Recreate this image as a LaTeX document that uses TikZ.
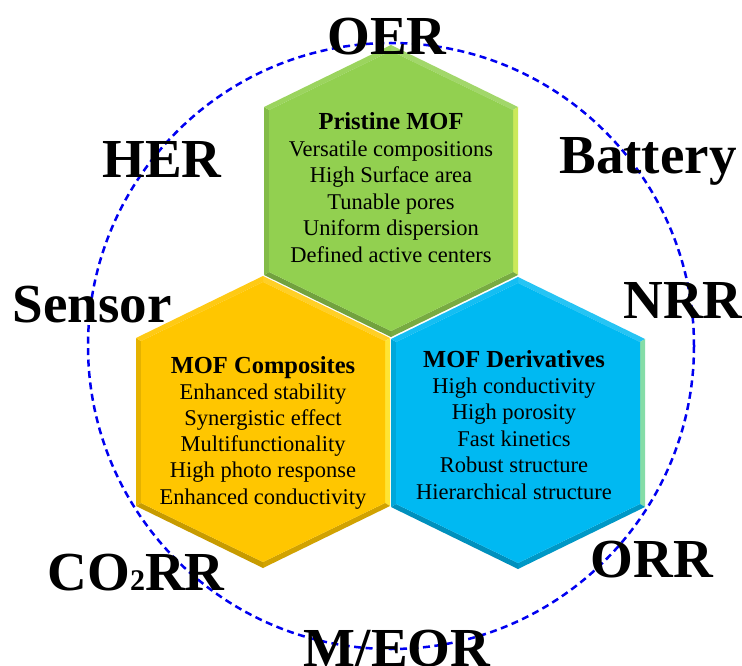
\documentclass[tikz,border=0pt]{standalone}
\usepackage{fontspec}
\setmainfont{Liberation Serif}
\definecolor{hgreen}{HTML}{92D050}
\definecolor{horange}{HTML}{FFC600}
\definecolor{hblue}{HTML}{00B9F2}
\definecolor{ringblue}{HTML}{0000F0}
\newcommand{\hexcell}[3]{%
  \begin{scope}[shift={(#1,#2)}]
    \coordinate (o1) at (0,-146);
    \coordinate (o2) at (127,-84);
    \coordinate (o3) at (127,84);
    \coordinate (o4) at (0,146);
    \coordinate (o5) at (-127,84);
    \coordinate (o6) at (-127,-84);
    \coordinate (i1) at (0,-140);
    \coordinate (i2) at (122,-81);
    \coordinate (i3) at (122,81);
    \coordinate (i4) at (0,140);
    \coordinate (i5) at (-122,81);
    \coordinate (i6) at (-122,-81);
    \fill[#3!85!white] (o1) -- (o2) -- (i2) -- (i1) -- cycle;
    \fill[#3!60!yellow!80!white] (o2) -- (o3) -- (i3) -- (i2) -- cycle;
    \fill[#3!82!black] (o3) -- (o4) -- (i4) -- (i3) -- cycle;
    \fill[#3!78!black] (o4) -- (o5) -- (i5) -- (i4) -- cycle;
    \fill[#3!90!black] (o5) -- (o6) -- (i6) -- (i5) -- cycle;
    \fill[#3!92!white] (o6) -- (o1) -- (i1) -- (i6) -- cycle;
    \fill[#3] (i1) -- (i2) -- (i3) -- (i4) -- (i5) -- (i6) -- cycle;
  \end{scope}}
\begin{document}
\begin{tikzpicture}[x=1pt,y=-1pt,
  biglabel/.style={font=\fontsize{55}{55}\selectfont\bfseries, anchor=base, inner sep=0pt},
  headtext/.style={font=\fontsize{24.5}{26}\selectfont\bfseries, anchor=base, inner sep=0pt},
  bodytext/.style={font=\fontsize{22.5}{26}\selectfont, anchor=base, inner sep=0pt},
  ring/.style={draw=ringblue, line width=2.5pt, dash pattern=on 7pt off 4.5pt}]
\useasboundingbox (0,0) rectangle (742,666);
\fill[white] (0,0) rectangle (742,666);
% hexagons
\hexcell{391}{191}{hgreen}
\hexcell{263}{422}{horange}
\hexcell{518}{423}{hblue}
% dashed ring
\draw[ring] (391,346) circle[radius=303];
% green text
\node[headtext] (gh) at (391,130) {Pristine MOF};
\foreach \t [count=\i] in {Versatile compositions,High Surface area,Tunable pores,Uniform dispersion,Defined active centers}
  \node[bodytext] (g\i) at (391,130+26.4*\i) {\t};
% orange text
\node[headtext] (oh) at (263,373) {MOF Composites};
\foreach \t [count=\i] in {Enhanced stability,Synergistic effect,Multifunctionality,High photo response,Enhanced conductivity}
  \node[bodytext] (or\i) at (263,373+26.2*\i) {\t};
% blue text
\node[headtext] (bh) at (514,367) {MOF Derivatives};
\foreach \t [count=\i] in {High conductivity,High porosity,Fast kinetics,Robust structure,Hierarchical structure}
  \node[bodytext] (b\i) at (514,367+26.4*\i) {\t};
% outer labels
\node[biglabel] (oer) at (387,55) {OER};
\node[biglabel] (her) at (162,178) {HER};
\node[biglabel] (bat) at (648,174) {Battery};
\node[biglabel] (sen) at (92,322) {Sensor};
\node[biglabel] (nrr) at (683,318) {NRR};
\node[biglabel] (co2) at (136,590) {CO{\fontsize{30}{30}\selectfont 2}RR};
\node[biglabel] (orr) at (652,577) {ORR};
\node[biglabel] (meor) at (397,666) {M/EOR};
\end{tikzpicture}
\end{document}
